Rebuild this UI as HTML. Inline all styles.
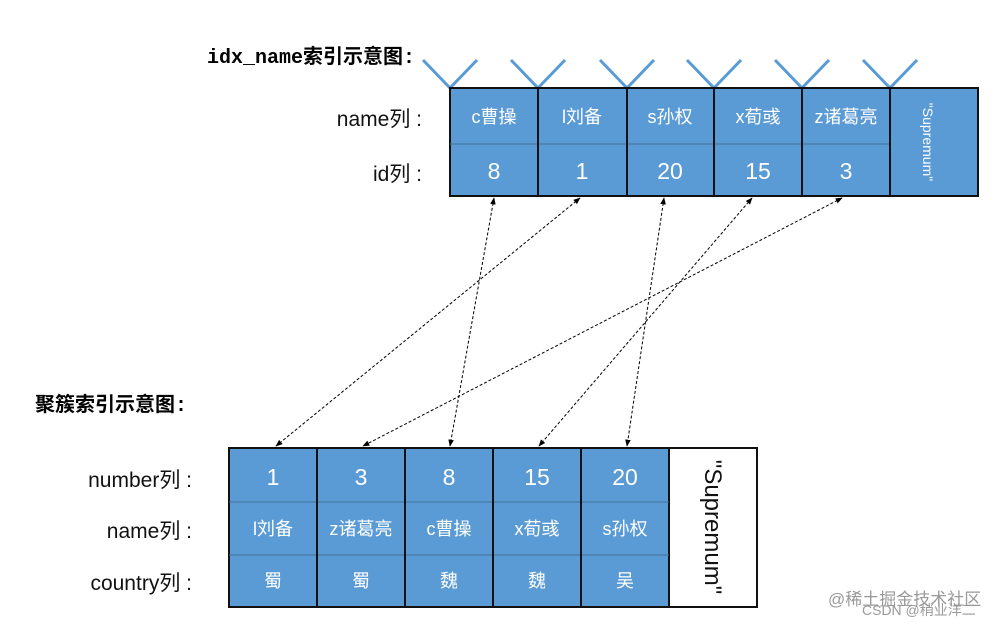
<!DOCTYPE html>
<html><head><meta charset="utf-8"><style>
body{margin:0;background:#fff;width:1008px;height:624px;overflow:hidden;position:relative;font-family:"Liberation Sans","Noto Sans CJK SC",sans-serif}
.t{position:absolute;white-space:nowrap}
.lab{position:absolute;font-size:21px;color:#111;text-align:right;white-space:nowrap}
</style></head><body>
<svg width="1008" height="624" style="position:absolute;left:0;top:0">
<defs><marker id="a" viewBox="0 0 10 10" refX="9" refY="5" markerWidth="7" markerHeight="7" orient="auto-start-reverse"><path d="M0,1 L10,5 L0,9z" fill="#000"/></marker></defs>
<g stroke="#5b9bd5" stroke-width="3" fill="none">
<path d="M423,60 L450,88 L477,60"/><path d="M511,60 L538,88 L565,60"/><path d="M600,60 L627,88 L654,60"/><path d="M687,60 L714,88 L741,60"/><path d="M775,60 L802,88 L829,60"/><path d="M863,60 L890,88 L917,60"/>
</g>
<rect x="450" y="88" width="528" height="108" fill="#5b9bd5" stroke="#111" stroke-width="2"/>
<line x1="450" y1="144" x2="890" y2="144" stroke="#41719c" stroke-width="1"/>
<g stroke="#111" stroke-width="2"><line x1="538" y1="88" x2="538" y2="196"/><line x1="627" y1="88" x2="627" y2="196"/><line x1="714" y1="88" x2="714" y2="196"/><line x1="802" y1="88" x2="802" y2="196"/><line x1="890" y1="88" x2="890" y2="196"/></g>
<rect x="229" y="448" width="528" height="159" fill="#5b9bd5" stroke="#111" stroke-width="2"/>
<rect x="669" y="448" width="88" height="159" fill="#fff" stroke="#111" stroke-width="2"/>
<g stroke="#41719c" stroke-width="1"><line x1="229" y1="502" x2="669" y2="502"/><line x1="229" y1="555" x2="669" y2="555"/></g>
<g stroke="#111" stroke-width="2"><line x1="317" y1="448" x2="317" y2="607"/><line x1="405" y1="448" x2="405" y2="607"/><line x1="493" y1="448" x2="493" y2="607"/><line x1="581" y1="448" x2="581" y2="607"/></g>
<g stroke="#000" stroke-width="1" stroke-dasharray="3,2" marker-start="url(#a)" marker-end="url(#a)">
<line x1="494" y1="198" x2="450" y2="446"/>
<line x1="580" y1="198" x2="276" y2="446"/>
<line x1="664" y1="198" x2="627" y2="446"/>
<line x1="752" y1="198" x2="539" y2="446"/>
<line x1="842" y1="198" x2="363" y2="446"/>
</g>
<g fill="#fff" font-size="18" text-anchor="middle" font-family="Liberation Sans,Noto Sans CJK SC,sans-serif">
<text x="494" y="123">c曹操</text><text x="582" y="123">l刘备</text><text x="670" y="123">s孙权</text><text x="758" y="123">x荀彧</text><text x="846" y="123">z诸葛亮</text>
<g font-size="23"><text x="494" y="179">8</text><text x="582" y="179">1</text><text x="670" y="179">20</text><text x="758" y="179">15</text><text x="846" y="179">3</text>
<text x="273" y="485">1</text><text x="361" y="485">3</text><text x="449" y="485">8</text><text x="537" y="485">15</text><text x="625" y="485">20</text></g>
<text x="273" y="535">l刘备</text><text x="361" y="535">z诸葛亮</text><text x="449" y="535">c曹操</text><text x="537" y="535">x荀彧</text><text x="625" y="535">s孙权</text>
<text x="273" y="587">蜀</text><text x="361" y="587">蜀</text><text x="449" y="587">魏</text><text x="537" y="587">魏</text><text x="625" y="587">吴</text>
<text transform="translate(928,142) rotate(90)" font-size="14" dy="5">"Supremum"</text>
</g>
<text transform="translate(713,527) rotate(90)" font-size="24" text-anchor="middle" dy="8" fill="#111" font-family="Liberation Sans,sans-serif">"Supremum"</text>
</svg>
<div class="t" style="left:207px;top:40px;font-size:20px;font-family:'Liberation Mono','Noto Sans CJK SC',monospace;font-weight:bold">idx_name索引示意图:</div>
<div class="t" style="left:35px;top:388px;font-size:20px;font-family:'Liberation Mono','Noto Sans CJK SC',monospace;font-weight:bold">聚簇索引示意图:</div>
<div class="lab" style="right:586px;top:103px">name列 :</div>
<div class="lab" style="right:586px;top:158px">id列 :</div>
<div class="lab" style="right:816px;top:464px">number列 :</div>
<div class="lab" style="right:816px;top:515px">name列 :</div>
<div class="lab" style="right:816px;top:567px">country列 :</div>
<div class="t" style="left:828px;top:585px;font-size:17px;color:#999">@稀土掘金技术社区</div>
<div class="t" style="left:862px;top:600px;font-size:14px;color:#999">CSDN @稍业洋二</div>
</body></html>
